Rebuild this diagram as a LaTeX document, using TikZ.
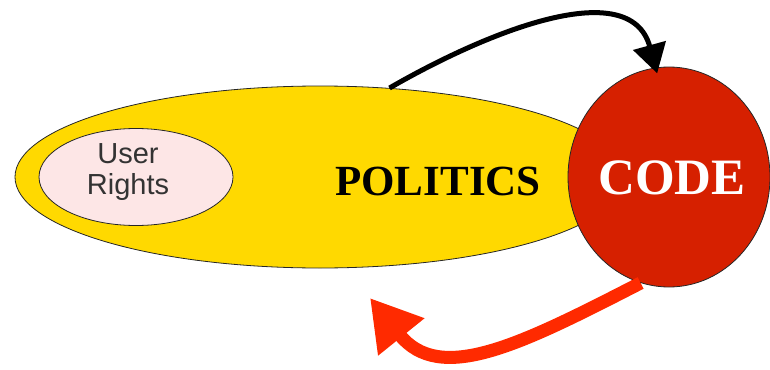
\documentclass[tikz,border=0pt]{standalone}
\usepackage{fontspec}
\setmainfont{Liberation Serif}
\newfontfamily\usersans{Liberation Sans}
\usetikzlibrary{shapes.geometric,arrows.meta}
\definecolor{polyellow}{RGB}{255,217,0}
\definecolor{codered}{RGB}{214,32,0}
\definecolor{arrowred}{RGB}{255,42,0}
\definecolor{rightspink}{RGB}{253,230,230}
\tikzset{
  blob/.style={ellipse, draw=black!85, line width=0.8pt, inner sep=0pt},
  bigtext/.style={font=\bfseries, inner sep=0pt},
  blackarrow/.style={line width=5pt, draw=black, -{Triangle[length=29pt,width=33pt]}},
  redarrow/.style={line width=13pt, draw=arrowred, -{Triangle[length=50pt,width=56pt]}}
}
\begin{document}
\begin{tikzpicture}[x=1pt,y=-1pt]
\useasboundingbox (0,0) rectangle (770,369);
\node[blob, fill=polyellow, minimum width=610pt, minimum height=182pt] (pol) at (320,177) {};
\node[blob, fill=rightspink, minimum width=194pt, minimum height=97pt] (rights) at (136,177) {};
\node[align=center, inner sep=0pt, font=\usersans\fontsize{29}{31}\selectfont, text=black!80] (rightstext) at (128,172) {User\\Rights};
\node[bigtext, font=\bfseries\fontsize{43}{43}\selectfont] (poltext) at (438,181) {POLITICS};
\node[blob, fill=codered, minimum width=202pt, minimum height=220pt] (code) at (669,177) {};
\node[bigtext, font=\bfseries\fontsize{51}{51}\selectfont, text=white] (codetext) at (672,178) {CODE};
\coordinate (redtip) at (370,298);
\draw[redarrow] (code.255) .. controls (520,345) and (440,385) .. (redtip);
\draw[blackarrow, shorten >=-6pt] (pol.52) .. controls (490,30) and (630,-25) .. (code.97);
\end{tikzpicture}
\end{document}
